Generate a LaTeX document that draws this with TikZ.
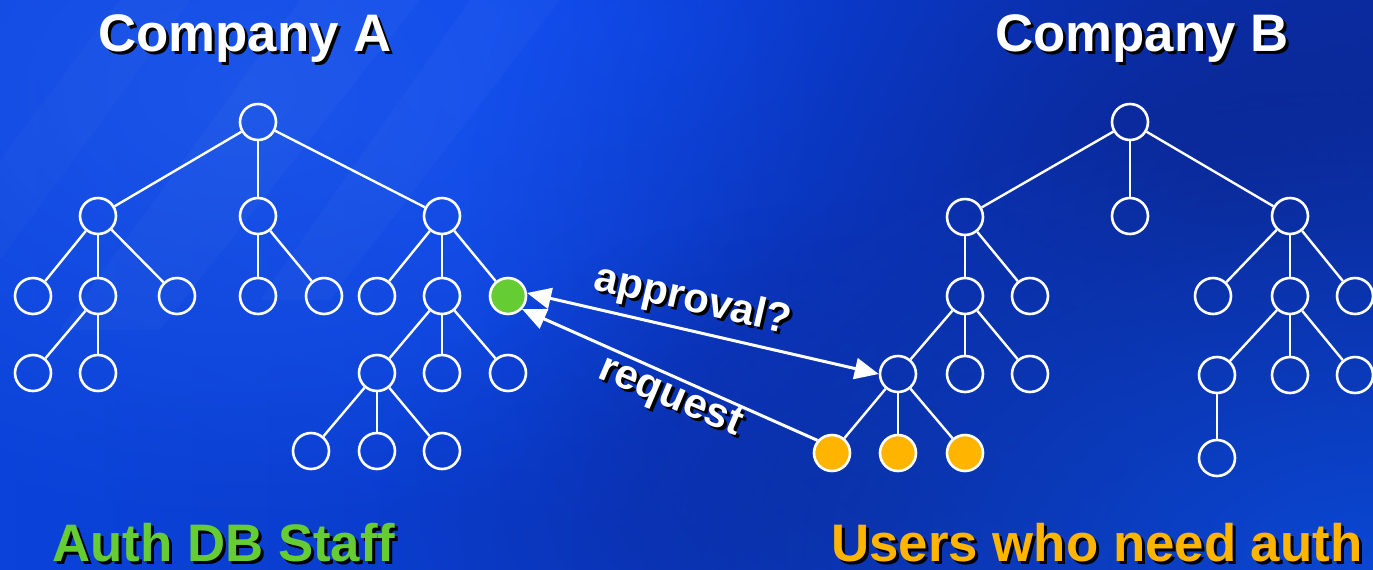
\documentclass[tikz,border=0pt]{standalone}
\usepackage{fontspec}
\setmainfont{Liberation Sans}
\usetikzlibrary{arrows.meta,fadings}

\tikzfading[name=softglow, inner color=transparent!0, outer color=transparent!100]

\definecolor{bgleft}{HTML}{0A42DA}
\definecolor{bgright}{HTML}{0A30AC}
\definecolor{glowbright}{HTML}{0A4CFF}
\definecolor{glowpale}{HTML}{2A62EA}
\definecolor{glownavy}{HTML}{0A2388}
\definecolor{glowlow}{HTML}{0A4CDC}
\definecolor{staffgreen}{HTML}{66CC33}
\definecolor{userorange}{HTML}{FFB400}

\begin{document}
\begin{tikzpicture}[x=0.5pt,y=-0.5pt,
  >={Triangle[length=12pt,width=10.5pt]},
  member/.style={circle,draw=white,line width=1.3pt,minimum size=18pt,inner sep=0pt},
  staff/.style={member,fill=staffgreen},
  user/.style={member,fill=userorange},
  link/.style={draw=white,line width=1.2pt},
  flow/.style={draw=white,line width=1.5pt},
  heading/.style={inner sep=0pt,anchor=base west,font=\fontsize{26.4}{30}\selectfont\bfseries},
  caption/.style={inner sep=0pt,anchor=base west,font=\fontsize{21}{24}\selectfont\bfseries},
  glow/.style={path fading=softglow}
]
\useasboundingbox (0,0) rectangle (1373,569);

% background
\shade[left color=bgleft,right color=bgright] (0,0) rectangle (1373,569);
\begin{scope}
  \clip (0,0) rectangle (1373,569);
  \fill[glowbright,glow,opacity=0.85] (650,40) ellipse [x radius=900,y radius=500];
  \fill[glowpale,glow,opacity=0.55] (240,90) ellipse [x radius=640,y radius=440];
  \fill[glownavy,glow,opacity=0.85] (1230,200) ellipse [x radius=760,y radius=620];
  \fill[glownavy,glow,opacity=0.5] (880,500) ellipse [x radius=500,y radius=300];
  \fill[glowlow,glow,opacity=0.85] (1373,569) ellipse [x radius=760,y radius=480];
  % faint diagonal streaks
  \fill[white,opacity=0.025] (300,0) -- (420,0) -- (160,330) -- (60,330) -- cycle;
  \fill[white,opacity=0.02] (120,0) -- (190,0) -- (0,260) -- (0,160) -- cycle;
  \fill[white,opacity=0.025] (470,0) -- (560,0) -- (330,300) -- (260,300) -- cycle;
\end{scope}

% company A
\node[member] (a0) at (258,122) {};
\node[member] (a1) at (98,216) {};
\node[member] (a2) at (258,216) {};
\node[member] (a3) at (442,216) {};
\node[member] (a11) at (33,296) {};
\node[member] (a12) at (98,296) {};
\node[member] (a13) at (177,296) {};
\node[member] (a21) at (258,296) {};
\node[member] (a22) at (324,296) {};
\node[member] (a31) at (377,296) {};
\node[member] (a32) at (442,296) {};
\node[staff]  (a33) at (508,296) {};
\node[member] (a121) at (33,373) {};
\node[member] (a122) at (98,373) {};
\node[member] (a321) at (377,373) {};
\node[member] (a322) at (442,373) {};
\node[member] (a323) at (508,373) {};
\node[member] (a3211) at (311,451) {};
\node[member] (a3212) at (377,451) {};
\node[member] (a3213) at (442,451) {};

\draw[link] (a0) -- (a1);  \draw[link] (a0) -- (a2);  \draw[link] (a0) -- (a3);
\draw[link] (a1) -- (a11); \draw[link] (a1) -- (a12); \draw[link] (a1) -- (a13);
\draw[link] (a2) -- (a21); \draw[link] (a2) -- (a22);
\draw[link] (a3) -- (a31); \draw[link] (a3) -- (a32); \draw[link] (a3) -- (a33);
\draw[link] (a12) -- (a121); \draw[link] (a12) -- (a122);
\draw[link] (a32) -- (a321); \draw[link] (a32) -- (a322); \draw[link] (a32) -- (a323);
\draw[link] (a321) -- (a3211); \draw[link] (a321) -- (a3212); \draw[link] (a321) -- (a3213);

% company B
\node[member] (b0) at (1130,122) {};
\node[member] (b1) at (965,217) {};
\node[member] (b2) at (1130,216) {};
\node[member] (b3) at (1290,216) {};
\node[member] (b11) at (965,296) {};
\node[member] (b12) at (1030,296) {};
\node[member] (b31) at (1213,296) {};
\node[member] (b32) at (1290,296) {};
\node[member] (b33) at (1355,296) {};
\node[member] (b111) at (898,374) {};
\node[member] (b112) at (965,374) {};
\node[member] (b113) at (1030,374) {};
\node[member] (b321) at (1217,375) {};
\node[member] (b322) at (1290,375) {};
\node[member] (b323) at (1355,375) {};
\node[user]   (b1111) at (832,453) {};
\node[user]   (b1112) at (898,453) {};
\node[user]   (b1113) at (965,453) {};
\node[member] (b3211) at (1217,458) {};

\draw[link] (b0) -- (b1);  \draw[link] (b0) -- (b2);  \draw[link] (b0) -- (b3);
\draw[link] (b1) -- (b11); \draw[link] (b1) -- (b12);
\draw[link] (b3) -- (b31); \draw[link] (b3) -- (b32); \draw[link] (b3) -- (b33);
\draw[link] (b11) -- (b111); \draw[link] (b11) -- (b112); \draw[link] (b11) -- (b113);
\draw[link] (b32) -- (b321); \draw[link] (b32) -- (b322); \draw[link] (b32) -- (b323);
\draw[link] (b111) -- (b1111); \draw[link] (b111) -- (b1112); \draw[link] (b111) -- (b1113);
\draw[link] (b321) -- (b3211);

% exchange between the companies
\draw[flow,<->] (a33.9) -- (b111.180);
\draw[flow,->] (b1111.139) -- (a33.-43);

% labels with drop shadows
\node[caption,text=black,rotate=-13] (approval-shadow) at (595,292) {approval?};
\node[caption,text=white,rotate=-13] (approval) at (592,289) {approval?};
\node[caption,text=black,rotate=-23] (request-shadow) at (599,380) {request};
\node[caption,text=white,rotate=-23] (request) at (596,377) {request};

\node[heading,text=black] (titleA-shadow) at (101,54) {Company A};
\node[heading,text=white] (titleA) at (98,51) {Company A};
\node[heading,text=black] (titleB-shadow) at (998,54) {Company B};
\node[heading,text=white] (titleB) at (995,51) {Company B};

\node[heading,text=black] (staff-shadow) at (55,564) {Auth DB Staff};
\node[heading,text=staffgreen] (staff) at (52,561) {Auth DB Staff};
\node[heading,text=black] (users-shadow) at (834,564) {Users who need auth};
\node[heading,text=userorange] (users) at (831,561) {Users who need auth};
\end{tikzpicture}
\end{document}
